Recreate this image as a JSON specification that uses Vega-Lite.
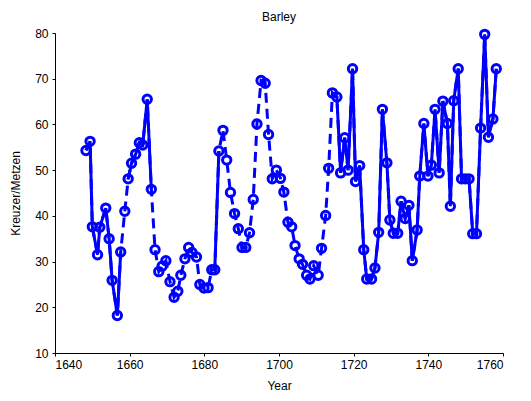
{
  "$schema": "https://vega.github.io/schema/vega-lite/v6.json",
  "width": 448,
  "height": 320,
  "autosize": "none",
  "padding": {"left": 55, "top": 33, "right": 28, "bottom": 48},
  "title": {"text": "Barley", "fontSize": 12, "fontWeight": "normal", "font": "Liberation Sans", "color": "black", "offset": 0, "anchor": "middle"},
  "config": {
    "view": {"stroke": null},
    "font": "Liberation Sans",
    "axis": {
      "grid": false, "domainColor": "black", "tickColor": "black", "labelColor": "black", "titleColor": "black",
      "labelFontSize": 12, "titleFontSize": 12, "titleFontWeight": "normal", "tickSize": 3, "labelFont": "Liberation Sans", "titleFont": "Liberation Sans"
    }
  },
  "data": {
    "values": [
      {"year": 1648.3, "price": 54.3, "run": 1},
      {"year": 1649.4, "price": 56.3, "run": 1},
      {"year": 1650.0, "price": 37.6, "run": 1},
      {"year": 1651.4, "price": 31.5, "run": 1},
      {"year": 1652.0, "price": 37.5, "run": 1},
      {"year": 1653.6, "price": 41.7, "run": 1},
      {"year": 1654.5, "price": 35.0, "run": 1},
      {"year": 1655.3, "price": 25.9, "run": 1},
      {"year": 1656.7, "price": 18.2, "run": 1},
      {"year": 1657.6, "price": 32.1, "run": 1},
      {"year": 1658.7, "price": 41.0, "run": null},
      {"year": 1659.6, "price": 48.1, "run": 2},
      {"year": 1660.5, "price": 51.5, "run": 2},
      {"year": 1661.6, "price": 53.5, "run": 2},
      {"year": 1662.6, "price": 56.0, "run": 2},
      {"year": 1663.5, "price": 55.5, "run": 2},
      {"year": 1664.7, "price": 65.5, "run": 2},
      {"year": 1665.8, "price": 45.8, "run": 2},
      {"year": 1666.8, "price": 32.6, "run": null},
      {"year": 1667.8, "price": 27.8, "run": null},
      {"year": 1668.7, "price": 29.0, "run": null},
      {"year": 1669.7, "price": 30.2, "run": null},
      {"year": 1670.8, "price": 25.6, "run": null},
      {"year": 1671.9, "price": 22.2, "run": null},
      {"year": 1672.9, "price": 23.5, "run": null},
      {"year": 1673.7, "price": 27.0, "run": null},
      {"year": 1674.8, "price": 30.6, "run": null},
      {"year": 1675.8, "price": 33.1, "run": null},
      {"year": 1676.7, "price": 32.0, "run": null},
      {"year": 1677.9, "price": 31.0, "run": null},
      {"year": 1678.8, "price": 25.0, "run": null},
      {"year": 1679.9, "price": 24.2, "run": null},
      {"year": 1681.0, "price": 24.3, "run": null},
      {"year": 1682.0, "price": 28.2, "run": null},
      {"year": 1682.8, "price": 28.2, "run": 3},
      {"year": 1683.9, "price": 54.2, "run": 3},
      {"year": 1685.0, "price": 58.7, "run": null},
      {"year": 1686.0, "price": 52.2, "run": null},
      {"year": 1687.0, "price": 45.1, "run": null},
      {"year": 1688.1, "price": 40.5, "run": null},
      {"year": 1689.1, "price": 37.2, "run": null},
      {"year": 1690.1, "price": 33.1, "run": null},
      {"year": 1691.1, "price": 33.1, "run": null},
      {"year": 1692.1, "price": 36.3, "run": null},
      {"year": 1693.1, "price": 43.6, "run": null},
      {"year": 1694.1, "price": 60.1, "run": null},
      {"year": 1695.2, "price": 69.6, "run": null},
      {"year": 1696.3, "price": 69.0, "run": null},
      {"year": 1697.2, "price": 57.8, "run": null},
      {"year": 1698.2, "price": 48.1, "run": null},
      {"year": 1699.3, "price": 50.0, "run": null},
      {"year": 1700.4, "price": 48.2, "run": null},
      {"year": 1701.3, "price": 45.2, "run": null},
      {"year": 1702.4, "price": 38.6, "run": null},
      {"year": 1703.4, "price": 37.6, "run": null},
      {"year": 1704.3, "price": 33.5, "run": null},
      {"year": 1705.4, "price": 30.6, "run": null},
      {"year": 1706.3, "price": 29.4, "run": null},
      {"year": 1707.4, "price": 27.0, "run": null},
      {"year": 1708.3, "price": 26.2, "run": null},
      {"year": 1709.3, "price": 29.1, "run": null},
      {"year": 1710.5, "price": 27.0, "run": null},
      {"year": 1711.4, "price": 32.9, "run": null},
      {"year": 1712.5, "price": 40.1, "run": null},
      {"year": 1713.3, "price": 50.4, "run": null},
      {"year": 1714.3, "price": 66.9, "run": 4},
      {"year": 1715.5, "price": 66.0, "run": 4},
      {"year": 1716.5, "price": 49.4, "run": 4},
      {"year": 1717.6, "price": 57.1, "run": 4},
      {"year": 1718.5, "price": 50.0, "run": 4},
      {"year": 1719.7, "price": 72.2, "run": 4},
      {"year": 1720.5, "price": 47.5, "run": 4},
      {"year": 1721.6, "price": 51.0, "run": 4},
      {"year": 1722.7, "price": 32.6, "run": 4},
      {"year": 1723.5, "price": 26.2, "run": 4},
      {"year": 1724.8, "price": 26.2, "run": 4},
      {"year": 1725.7, "price": 28.6, "run": 4},
      {"year": 1726.7, "price": 36.4, "run": 4},
      {"year": 1727.7, "price": 63.3, "run": 4},
      {"year": 1728.9, "price": 51.6, "run": 4},
      {"year": 1729.7, "price": 39.1, "run": 4},
      {"year": 1730.6, "price": 36.2, "run": 4},
      {"year": 1731.8, "price": 36.2, "run": 4},
      {"year": 1732.7, "price": 43.2, "run": 4},
      {"year": 1733.8, "price": 39.4, "run": 4},
      {"year": 1734.8, "price": 42.3, "run": 4},
      {"year": 1735.7, "price": 30.2, "run": 4},
      {"year": 1737.0, "price": 36.9, "run": 4},
      {"year": 1737.7, "price": 48.7, "run": 4},
      {"year": 1738.8, "price": 60.2, "run": 4},
      {"year": 1739.9, "price": 48.7, "run": 4},
      {"year": 1740.8, "price": 51.1, "run": 4},
      {"year": 1741.8, "price": 63.3, "run": 4},
      {"year": 1742.9, "price": 49.4, "run": 4},
      {"year": 1743.9, "price": 65.1, "run": 4},
      {"year": 1745.1, "price": 60.2, "run": 4},
      {"year": 1745.9, "price": 42.1, "run": 4},
      {"year": 1746.8, "price": 65.2, "run": 4},
      {"year": 1748.0, "price": 72.2, "run": 4},
      {"year": 1748.9, "price": 48.1, "run": 4},
      {"year": 1749.9, "price": 48.1, "run": 4},
      {"year": 1750.9, "price": 48.1, "run": 4},
      {"year": 1751.9, "price": 36.1, "run": 4},
      {"year": 1752.9, "price": 36.1, "run": 4},
      {"year": 1754.0, "price": 59.2, "run": 4},
      {"year": 1755.1, "price": 79.7, "run": 4},
      {"year": 1756.1, "price": 57.2, "run": 4},
      {"year": 1757.3, "price": 61.2, "run": 4},
      {"year": 1758.2, "price": 72.2, "run": 4}
    ]
  },
  "encoding": {
    "x": {
      "field": "year", "type": "quantitative",
      "scale": {"domain": [1640, 1760], "nice": false, "zero": false},
      "axis": {"title": "Year", "values": [1640, 1660, 1680, 1700, 1720, 1740, 1760], "format": "d", "labelPadding": 3, "titlePadding": 10}
    },
    "y": {
      "field": "price", "type": "quantitative",
      "scale": {"domain": [10, 80], "nice": false, "zero": false},
      "axis": {"title": "Kreuzer/Metzen", "values": [10, 20, 30, 40, 50, 60, 70, 80], "labelPadding": 4, "titlePadding": 12}
    }
  },
  "layer": [
    {
      "mark": {"type": "line", "color": "#0000ff", "strokeWidth": 3, "strokeDash": [10, 6], "strokeCap": "butt"}
    },
    {
      "transform": [{"filter": "datum.run != null"}],
      "mark": {"type": "line", "color": "#0000ff", "strokeWidth": 3},
      "encoding": {"detail": {"field": "run", "type": "nominal"}}
    },
    {
      "mark": {"type": "point", "shape": "circle", "filled": false, "color": "#0000ff", "strokeWidth": 3, "size": 70, "opacity": 1}
    }
  ]
}
